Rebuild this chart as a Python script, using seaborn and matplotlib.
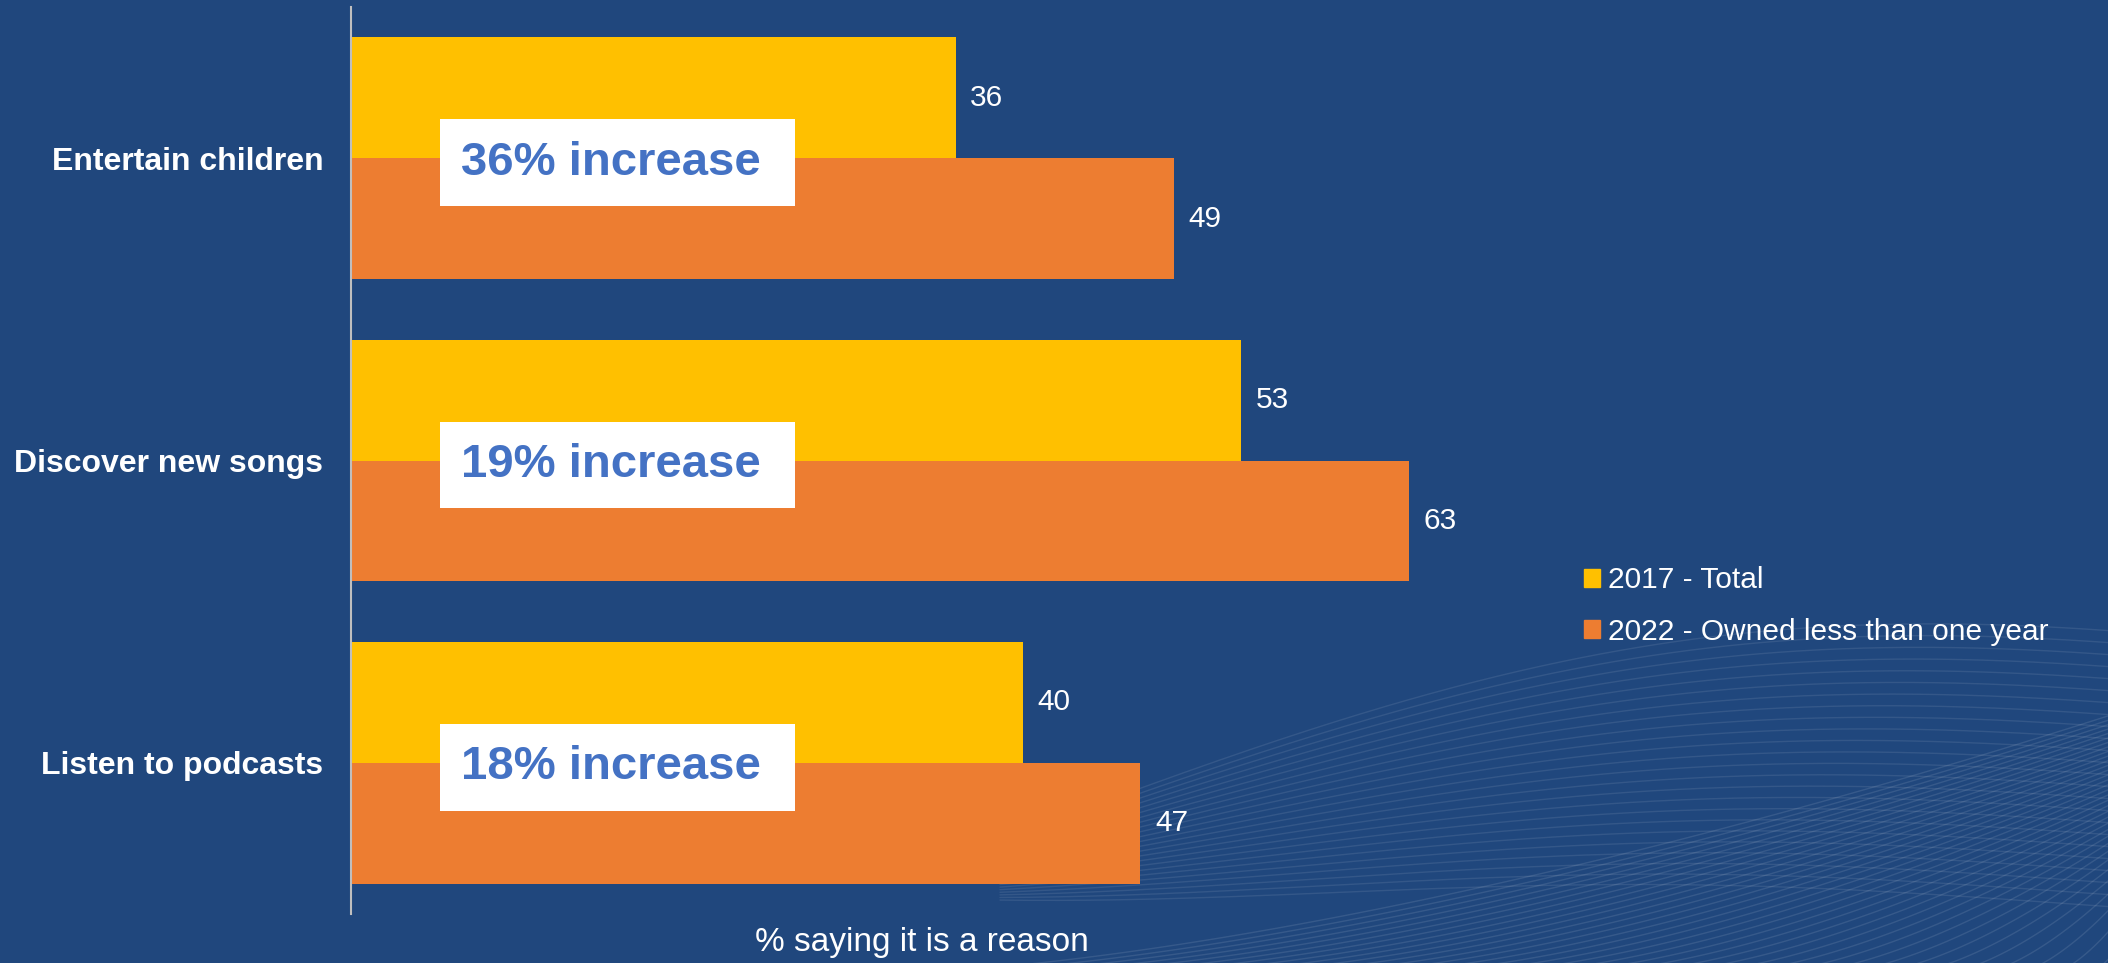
import numpy as np
import pandas as pd
import matplotlib.pyplot as plt
import seaborn as sns

# Chart data
reasons = ['Entertain children', 'Discover new songs', 'Listen to podcasts']
series_names = ['2017 - Total', '2022 - Owned less than one year']
pct_2017 = [36, 53, 40]
pct_2022 = [49, 63, 47]
increase_labels = ['36% increase', '19% increase', '18% increase']

bg_color = '#20477D'
bar_colors = ['#FFC000', '#ED7D31']

sns.set_style('white')
plt.rcParams['font.family'] = ['Liberation Sans', 'DejaVu Sans']

df = pd.DataFrame({
    'reason': reasons * 2,
    'series': [series_names[0]] * 3 + [series_names[1]] * 3,
    'value': pct_2017 + pct_2022,
})

W, H = 2108, 963
fig = plt.figure(figsize=(W / 100, H / 100), dpi=100, facecolor=bg_color)

# faint decorative waves in the background (pixel space)
bg = fig.add_axes([0, 0, 1, 1], zorder=-1)
bg.set_xlim(0, W)
bg.set_ylim(H, 0)
bg.axis('off')
bg.set_facecolor(bg_color)
xs = np.linspace(1000, W, 300)
for k in range(24):
    y_r = 630 + k * 12
    y_l = 733 + k * 7
    f = ((W - xs) / (W - 1300)) ** 2
    ys = y_r + (y_l - y_r) * f - 18 * np.sin((xs - 1300) / 800 * np.pi)
    bg.plot(xs, ys, color='white', alpha=0.09, lw=1)
t = np.linspace(0, 1, 120)
for k in range(34):
    xb = 900 + k * 36
    px = xb + (W + 80 - xb) * t
    py = H + 10 - (H + 10 - (690 + k * 4)) * t ** 1.5
    bg.plot(px, py, color='white', alpha=0.10, lw=1)

ax = fig.add_axes([351 / W, (H - 914) / H, 1142 / W, 907 / H])
ax.set_facecolor('none')
sns.barplot(data=df, y='reason', x='value', hue='series', orient='h',
            palette=bar_colors, saturation=1, width=0.8, linewidth=0,
            legend=False, ax=ax)

ax.set_xlim(0, 68)
ax.set_ylim(2.5, -0.5)

for cont in ax.containers:
    ax.bar_label(cont, padding=10.5, color='white', fontsize=21.5)

# white call-out boxes with the increase text
for i, lab in enumerate(increase_labels):
    ax.text(6.55, i + 0.015, lab + ' ', ha='left', va='center', fontsize=34,
            fontweight='bold', color='#4472C4', zorder=5,
            bbox=dict(facecolor='white', edgecolor='none', boxstyle='square,pad=0.45'))

for s in ['top', 'right', 'bottom']:
    ax.spines[s].set_visible(False)
ax.spines['left'].set_color('#BFBFBF')
ax.spines['left'].set_linewidth(1.5)
ax.set_xticks([])
ax.tick_params(axis='y', length=0, pad=20)
for lbl in ax.get_yticklabels():
    lbl.set_fontweight('bold')
    lbl.set_fontsize(23)
    lbl.set_color('white')
ax.set_ylabel('')
ax.set_xlabel('% saying it is a reason', color='white', fontsize=24)
ax.xaxis.set_label_coords(0.5, -28 / 907)
ax.xaxis.label.set_va('center')

handles = [plt.Rectangle((0, 0), 1, 1, color=c) for c in bar_colors]
leg = fig.legend(handles, series_names, loc='center left',
                 bbox_to_anchor=(1584 / W, 1 - 606 / H), frameon=False,
                 fontsize=21.5, handlelength=0.55, handleheight=0.55,
                 handletextpad=0.25, labelspacing=0.78, borderpad=0,
                 borderaxespad=0)
for lt in leg.get_texts():
    lt.set_color('white')

fig.savefig('out.png', dpi=100, facecolor=bg_color)
